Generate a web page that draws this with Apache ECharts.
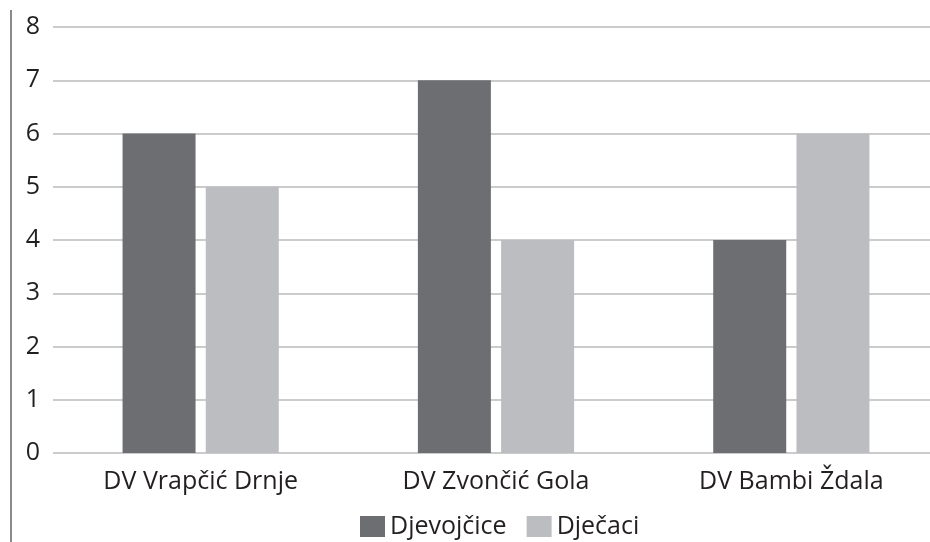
<!DOCTYPE html>
<html>
<head>
<meta charset="utf-8">
<script src="https://cdn.jsdelivr.net/npm/echarts@6/dist/echarts.min.js"></script>
<style>
  html, body { margin: 0; padding: 0; background: #fff; }
  #chart { width: 930px; height: 542px; }
</style>
</head>
<body>
<div id="chart"></div>
<script>
// Kindergartens and the number of girls / boys in each
const categories = ['DV Vrapčić Drnje', 'DV Zvončić Gola', 'DV Bambi Ždala'];
const girls = [6, 7, 4];
const boys = [5, 4, 6];
const seriesNames = ['Djevojčice', 'Dječaci'];
const yTicks = [0, 1, 2, 3, 4, 5, 6, 7, 8];

const FONT = '"Open Sans", "Noto Sans", sans-serif';

const chart = echarts.init(document.getElementById('chart'), null, { renderer: 'canvas' });

chart.setOption({
  animation: false,
  textStyle: { fontFamily: FONT },
  grid: {
    left: 53, top: 27, width: 886, height: 426,
    containLabel: false,
    outerBoundsMode: 'none'
  },
  legend: {
    data: seriesNames,
    top: 514,
    left: 360,
    itemWidth: 25,
    itemHeight: 21,
    itemGap: 20,
    icon: 'rect',
    padding: 0,
    textStyle: { fontSize: 25, color: '#231f20', fontFamily: FONT }
  },
  xAxis: {
    type: 'category',
    data: categories,
    axisLine: { show: false },
    axisTick: { show: false },
    axisLabel: { fontSize: 25, color: '#231f20', margin: 16, fontFamily: FONT }
  },
  yAxis: {
    type: 'value',
    min: yTicks[0],
    max: yTicks[yTicks.length - 1],
    interval: 1,
    axisLine: { show: false },
    axisTick: { show: false },
    axisLabel: { fontSize: 25, color: '#231f20', margin: 13, fontFamily: FONT },
    splitLine: { lineStyle: { color: '#cbcbcb', width: 2 } }
  },
  series: [
    {
      name: seriesNames[0],
      type: 'bar',
      data: girls,
      barWidth: 73,
      barGap: '14%',
      itemStyle: { color: '#6d6e71' }
    },
    {
      name: seriesNames[1],
      type: 'bar',
      data: boys,
      barWidth: 73,
      itemStyle: { color: '#bcbdc0' }
    }
  ],
  graphic: [
    {
      type: 'line',
      shape: { x1: 11, y1: 10, x2: 11, y2: 542 },
      style: { stroke: '#8a8a8a', lineWidth: 2 }
    }
  ]
});
</script>
</body>
</html>
